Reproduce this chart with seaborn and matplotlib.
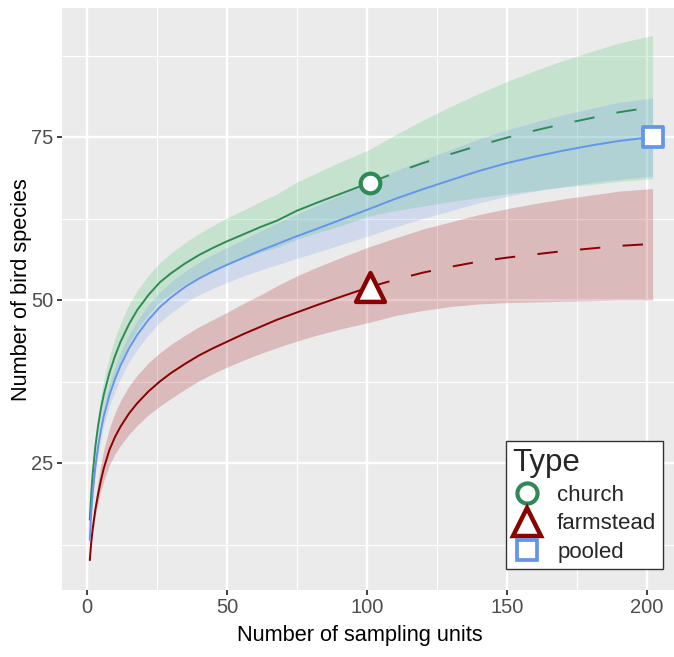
import numpy as np
import pandas as pd
import matplotlib
matplotlib.use("Agg")
import matplotlib.pyplot as plt
from matplotlib.lines import Line2D
import seaborn as sns

# ---------------- data ----------------
# church: interpolated part (to reference sample 101) and extrapolated part
church_x_int = [1, 1.5, 2, 3, 4, 5, 6, 8, 10, 12, 15, 18, 22, 26, 30, 35, 40, 45, 50,
                56, 62, 68, 75, 82, 90, 101]
church_y_int = [16.3, 20.2, 23.2, 27.6, 30.8, 33.4, 35.5, 38.8, 41.4, 43.6, 46.3, 48.5,
                50.8, 52.7, 54.1, 55.6, 56.9, 58.0, 59.0, 60.1, 61.2, 62.2, 63.7, 64.9,
                66.2, 68.0]
church_x_ext = [101, 110, 120, 130, 140, 150, 160, 170, 180, 190, 202]
church_y_ext = [68.0, 69.5, 71.0, 72.4, 73.7, 74.9, 76.0, 77.0, 77.9, 78.8, 79.6]
church_lo = [15.9, 19.5, 22.2, 26.2, 29.1, 31.4, 33.3, 36.3, 38.7, 40.7, 43.3, 45.5,
             47.8, 49.7, 51.0, 52.4, 53.6, 54.6, 55.4, 56.4, 57.3, 58.1, 59.3, 60.3,
             61.3, 62.9,
             63.7, 64.4, 65.1, 65.7, 66.3, 66.8, 67.3, 67.7, 68.2, 68.6]
church_hi = [16.7, 20.9, 24.2, 29.0, 32.5, 35.4, 37.7, 41.3, 44.1, 46.5, 49.3, 51.5,
             53.8, 55.7, 57.2, 58.8, 60.2, 61.4, 62.6, 63.8, 65.1, 66.3, 68.1, 69.5,
             71.1, 73.1,
             75.3, 77.6, 79.7, 81.7, 83.5, 85.2, 86.7, 88.1, 89.4, 90.6]

# farmstead
farm_x_int = [1, 1.5, 2, 3, 4, 5, 6, 8, 10, 12, 15, 18, 22, 26, 30, 35, 40, 45, 50,
              56, 62, 68, 75, 82, 90, 101]
farm_y_int = [10.1, 12.8, 14.8, 17.9, 20.3, 22.4, 24.2, 27.0, 29.0, 30.6, 32.6, 34.2,
              36.0, 37.5, 38.8, 40.2, 41.5, 42.6, 43.6, 44.8, 45.9, 47.0, 48.1, 49.2,
              50.4, 52.0]
farm_x_ext = [101, 110, 120, 130, 140, 150, 160, 170, 180, 190, 202]
farm_y_ext = [52.0, 53.1, 54.2, 55.1, 55.9, 56.5, 57.0, 57.5, 57.9, 58.3, 58.6]
farm_lo = [9.9, 12.3, 14.1, 16.9, 19.0, 20.8, 22.3, 24.7, 26.4, 27.7, 29.4, 30.8,
           32.4, 33.7, 34.9, 36.3, 37.6, 38.7, 39.7, 40.8, 41.8, 42.7, 43.7, 44.6,
           45.5, 46.6,
           47.6, 48.4, 49.0, 49.4, 49.6, 49.7, 49.8, 49.9, 50.0, 50.0]
farm_hi = [10.4, 13.5, 15.8, 19.5, 22.4, 24.9, 27.0, 30.3, 32.7, 34.6, 36.8, 38.5,
           40.4, 41.9, 43.2, 44.6, 45.9, 47.0, 48.1, 49.5, 50.8, 52.2, 53.7, 55.0,
           56.4, 58.2,
           59.5, 60.9, 62.0, 63.1, 64.0, 64.8, 65.5, 66.1, 66.7, 67.1]

# pooled (interpolated only, reference sample 202)
pooled_x = [1, 1.5, 2, 3, 4, 5, 6, 8, 10, 12, 15, 18, 22, 26, 30, 35, 40, 45, 50, 56,
            62, 68, 75, 82, 90, 101, 110, 120, 130, 140, 150, 160, 170, 180, 190, 202]
pooled_y = [13.2, 17.3, 20.3, 24.5, 27.6, 30.1, 32.2, 35.4, 37.9, 40.0, 42.6, 44.7,
            47.0, 48.9, 50.4, 52.0, 53.3, 54.4, 55.4, 56.5, 57.6, 58.6, 59.8, 60.9,
            62.2, 64.0, 65.5, 67.0, 68.4, 69.8, 71.0, 72.0, 72.9, 73.7, 74.4, 75.0]
pooled_lo = [12.9, 16.8, 19.6, 23.5, 26.4, 28.7, 30.7, 33.7, 36.0, 38.0, 40.5, 42.5,
             44.7, 46.6, 48.0, 49.6, 50.8, 51.8, 52.7, 53.7, 54.6, 55.4, 56.4, 57.3,
             58.4, 59.9, 61.2, 62.5, 63.7, 64.9, 65.9, 66.7, 67.4, 68.0, 68.5, 69.0]
pooled_hi = [13.5, 17.8, 21.0, 25.5, 28.8, 31.5, 33.7, 37.1, 39.8, 42.0, 44.7, 46.9,
             49.3, 51.2, 52.8, 54.4, 55.8, 57.0, 58.1, 59.3, 60.6, 61.8, 63.2, 64.5,
             66.0, 68.1, 69.8, 71.5, 73.1, 74.7, 76.1, 77.3, 78.4, 79.4, 80.3, 81.0]

ref_type = ["church", "farmstead", "pooled"]
ref_x = [101, 101, 202]
ref_y = [68.0, 52.0, 75.0]

types = ["church", "farmstead", "pooled"]
line_colors = {"church": "#2E8B57", "farmstead": "#8B0000", "pooled": "#6495ED"}
band_colors = {"church": "#4CC878", "farmstead": "#A01010", "pooled": "#6495ED"}
markers = {"church": "o", "farmstead": "^", "pooled": "s"}

x_ticks = [0, 50, 100, 150, 200]
y_ticks = [25, 50, 75]

# ---------------- style ----------------
sns.set_theme(style="darkgrid", rc={
    "axes.facecolor": "#EBEBEB",
    "grid.color": "white",
    "axes.edgecolor": "none",
})
plt.rcParams["font.family"] = ["Liberation Sans", "DejaVu Sans"]

W, H = 674, 657
fig = plt.figure(figsize=(W / 100, H / 100), dpi=100)
AX_L, AX_R, AX_T, AX_B = 62, 680, 8, 590
ax = fig.add_axes([AX_L / W, 1 - AX_B / H, (AX_R - AX_L) / W, (AX_B - AX_T) / H])

# confidence bands
band_x_church = church_x_int + church_x_ext[1:]
band_x_farm = farm_x_int + farm_x_ext[1:]
ax.fill_between(band_x_church, church_lo, church_hi, color=band_colors["church"],
                alpha=0.24, linewidth=0, zorder=2)
ax.fill_between(pooled_x, pooled_lo, pooled_hi, color=band_colors["pooled"],
                alpha=0.2, linewidth=0, zorder=2)
ax.fill_between(band_x_farm, farm_lo, farm_hi, color=band_colors["farmstead"],
                alpha=0.22, linewidth=0, zorder=2)

# lines via seaborn
df_int = pd.concat([
    pd.DataFrame({"x": church_x_int, "y": church_y_int, "Type": "church"}),
    pd.DataFrame({"x": farm_x_int, "y": farm_y_int, "Type": "farmstead"}),
    pd.DataFrame({"x": pooled_x, "y": pooled_y, "Type": "pooled"}),
])
df_ext = pd.concat([
    pd.DataFrame({"x": church_x_ext, "y": church_y_ext, "Type": "church"}),
    pd.DataFrame({"x": farm_x_ext, "y": farm_y_ext, "Type": "farmstead"}),
])
sns.lineplot(data=df_int, x="x", y="y", hue="Type", palette=line_colors, ax=ax,
             linewidth=1.4, legend=False, zorder=3, sort=False, estimator=None)
n_before = len(ax.get_lines())
sns.lineplot(data=df_ext, x="x", y="y", hue="Type", palette=line_colors, ax=ax,
             linewidth=1.4, legend=False, zorder=3, sort=False, estimator=None)
for ln in ax.get_lines()[n_before:]:
    ln.set_linestyle((0, (10.5, 11.5)))

# reference points
df_ref = pd.DataFrame({"x": ref_x, "y": ref_y, "Type": ref_type})
msize = {"church": 200, "farmstead": 430, "pooled": 215}
mew = {"church": 3.0, "farmstead": 3.2, "pooled": 2.7}
for t in types:
    sub = df_ref[df_ref["Type"] == t]
    sns.scatterplot(data=sub, x="x", y="y", marker=markers[t], s=msize[t],
                    facecolor="white", edgecolor=line_colors[t], linewidth=mew[t],
                    ax=ax, zorder=5, legend=False)

# axes
ax.set_xlim(-(87 - AX_L) / 2.8, 200 + (AX_R - 647) / 2.8)
ax.set_ylim(25 - (AX_B - 463) / 6.52, 75 + (137 - AX_T) / 6.52)
ax.set_xticks(x_ticks)
ax.set_yticks(y_ticks)
ax.set_xticks([25, 75, 125, 175], minor=True)
ax.set_yticks([12.5, 37.5, 62.5, 87.5], minor=True)
ax.grid(which="major", color="white", linewidth=1.7)
ax.grid(which="minor", color="white", linewidth=0.85)
ax.tick_params(which="major", length=3.5, width=1.3, color="#333333",
               labelsize=14.5, labelcolor="#4D4D4D", pad=2.5,
               bottom=True, left=True)
ax.tick_params(which="minor", length=0)
ax.set_xlabel("Number of sampling units", fontsize=15.7, color="black")
ax.set_ylabel("Number of bird species", fontsize=15.7, color="black")
axw, axh = AX_R - AX_L, AX_B - AX_T
ax.xaxis.set_label_coords((360 - AX_L) / axw, (AX_B - 636) / axh)
ax.xaxis.label.set_verticalalignment("center")
ax.yaxis.set_label_coords((22 - AX_L) / axw, (AX_B - 290) / axh)
ax.yaxis.label.set_verticalalignment("center")
for s in ax.spines.values():
    s.set_visible(False)

# legend
handles = [Line2D([0], [0], marker=markers[t], linestyle="none",
                  markerfacecolor="white", markeredgecolor=line_colors[t],
                  markersize={"church": 14.5, "farmstead": 20, "pooled": 15}[t],
                  markeredgewidth=mew[t]) for t in types]
leg = ax.legend(handles, types, title="Type", loc="upper left",
                bbox_to_anchor=(506 / W, 1 - 441 / H), bbox_transform=fig.transFigure,
                borderaxespad=0, fontsize=16, title_fontsize=22.5, frameon=True,
                fancybox=False, framealpha=1, edgecolor="#333333",
                handletextpad=0.7, labelspacing=0.33, borderpad=0.3,
                handlelength=1.3)
leg._legend_box.align = "left"
leg.get_frame().set_linewidth(1.0)
leg.get_frame().set_facecolor("white")
leg.set_zorder(10)

fig.savefig("out.png", dpi=100)
